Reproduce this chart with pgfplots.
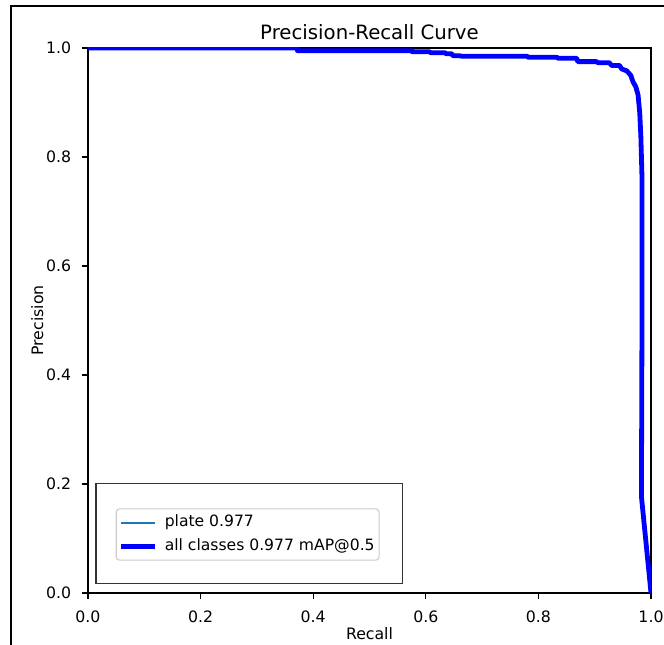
\documentclass[border=0pt]{standalone}
\usepackage{fontspec}
\setmainfont{DejaVu Sans}
\usepackage{pgfplots}
\usepackage{pgfplotstable}
\pgfplotsset{compat=1.18}
\definecolor{mplblue}{HTML}{1F77B4}
\pgfplotstableread{
r p
0 1.0
0.372 1.0
0.372 0.995
0.576 0.995
0.576 0.993
0.607 0.993
0.608 0.9914
0.634 0.9914
0.636 0.9895
0.646 0.9895
0.648 0.9859
0.660 0.9859
0.664 0.9848
0.780 0.9848
0.782 0.9829
0.833 0.9829
0.835 0.9811
0.868 0.9811
0.870 0.975
0.903 0.975
0.906 0.973
0.926 0.973
0.930 0.968
0.944 0.968
0.948 0.9615
0.957 0.958
0.964 0.950
0.968 0.938
0.973 0.929
0.977 0.914
0.980 0.881
0.982 0.837
0.984 0.763
0.984 0.50
0.983 0.177
1.0 0.0
}\prdata
\begin{document}
\begin{tikzpicture}
\useasboundingbox (-66pt,-38.25pt) rectangle (432pt,444.75pt);
\clip (-66pt,-38.25pt) rectangle (432pt,444.75pt);
\fill[white] (-66pt,-38.25pt) rectangle (432pt,444.75pt);
\draw[line width=0.8pt, black] (-57.75pt,-80pt) rectangle (480pt,440.25pt);
\begin{axis}[
  at={(0pt,0pt)}, anchor=south west,
  scale only axis, width=422.25pt, height=408.75pt,
  xmin=0, xmax=1, ymin=0, ymax=1,
  axis line style={line width=0.96pt, black},
  tick pos=left, tick align=outside,
  major tick length=4.2pt,
  every tick/.style={black, line width=0.96pt},
  xtick={0,0.2,0.4,0.6,0.8,1},
  ytick={0,0.2,0.4,0.6,0.8,1},
  /pgf/number format/.cd, fixed, fixed zerofill, precision=1, assume math mode=true,
  /pgfplots/.cd,
  tick label style={font=\fontsize{11.8}{14}\selectfont},
  xticklabel style={inner sep=0pt, anchor=north, yshift=-9pt},
  yticklabel style={inner sep=0pt, anchor=east, xshift=-8.25pt},
  title={Precision-Recall Curve},
  title style={at={(axis description cs:0.5,1.0147)}, anchor=base, yshift=-6pt, inner sep=0pt, font=\fontsize{14.8}{17}\selectfont},
  xlabel={Recall},
  xlabel style={at={(axis description cs:0.5,-0.0856)}, anchor=base, inner sep=0pt, font=\fontsize{11.8}{14}\selectfont},
  ylabel={Precision},
  ylabel style={at={(axis description cs:-0.0799,0.5)}, rotate=0, anchor=base, inner sep=0pt, font=\fontsize{11.8}{14}\selectfont},
  legend cell align=left,
  legend image code/.code={\draw[#1] (0pt,0pt) -- (25.5pt,0pt);},
  legend style={at={(axis cs:0.0492,0.1554)}, anchor=north west,
    draw=black!20, line width=0.8pt, rounded corners=2.5pt, fill=white,
    font=\fontsize{11.7}{14}\selectfont,
    inner xsep=1.8pt, inner ysep=3pt, row sep=2.5pt,
    nodes={inner sep=1.5pt, text height=9pt, text depth=3pt},
    /tikz/every even column/.append style={column sep=0pt},
    /tikz/every odd column/.append style={column sep=4pt}},
]
\addplot[mplblue, line width=1.2pt, line join=round] table[x=r, y=p] {\prdata};
\addlegendentry{plate 0.977}
\addplot[blue, line width=3.6pt, line join=round] table[x=r, y=p] {\prdata};
\addlegendentry{all classes 0.977 mAP@0.5}
\draw[black!80, line width=0.8pt] (axis cs:0.0142,0.0178) rectangle (axis cs:0.559,0.2013);
\end{axis}
\end{tikzpicture}
\end{document}
